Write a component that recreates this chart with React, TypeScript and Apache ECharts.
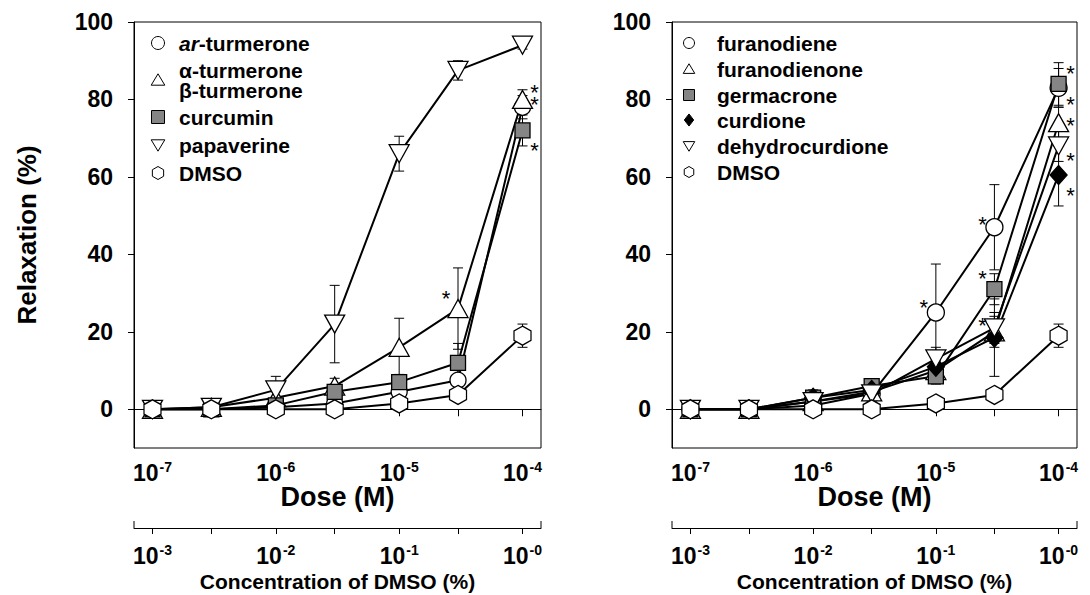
import React, { useEffect, useRef } from 'react';
import * as echarts from 'echarts';

// ---------- data ----------
const doses = [1e-7, 3e-7, 1e-6, 3e-6, 1e-5, 3e-5, 1e-4];
const doseLabelValues = [1e-7, 1e-6, 1e-5, 1e-4];
const doseExponents = ['-7', '-6', '-5', '-4'];
const dmsoExponents = ['-3', '-2', '-1', '-0'];
const yTicks = [0, 20, 40, 60, 80, 100];

// left panel
const leftNames = ['ar-turmerone', 'α-turmerone\nβ-turmerone', 'curcumin', 'papaverine', 'DMSO'];
const arTurmerone = [0, 0, 0.5, 1.5, 4.5, 7.5, 78];
const arTurmeroneErr = [0, 0, 0, 1, 2, 2.5, 3];
const abTurmerone = [0, 0.5, 3, 6, 16, 26, 80];
const abTurmeroneErr = [0, 0, 1.5, 2, 7.5, 10.5, 2.5];
const curcumin = [0, 0, 1, 4.5, 7, 12, 72];
const curcuminErr = [0, 0, 1, 2, 2, 5, 4];
const papaverine = [0, 0.5, 5, 22, 66, 87.5, 94];
const papaverineErr = [0, 0, 3.5, 10, 4.5, 2.5, 1];
const dmso = [0, 0, 0, 0, 1.5, 3.7, 19];
const dmsoErr = [0, 0, 0, 0, 0, 0, 3];
const leftStars = [[3e-5, 30, -1], [1e-4, 83, 1], [1e-4, 80, 1], [1e-4, 68, 1]];

// right panel
const rightNames = ['furanodiene', 'furanodienone', 'germacrone', 'curdione', 'dehydrocurdione', 'DMSO'];
const furanodiene = [0, 0, 1, 4, 25, 47, 83];
const furanodieneErr = [0, 0, 0, 0, 12.5, 11, 5];
const furanodienone = [0, 0, 2, 4.5, 10, 20, 74];
const furanodienoneErr = [0, 0, 0, 0, 3, 4, 4];
const germacrone = [0, 0, 3, 6, 8.5, 31, 84];
const germacroneErr = [0, 0, 1.5, 1.5, 2, 4, 5.5];
const curdione = [0, 0, 3, 5, 11, 18.5, 60.5];
const curdioneErr = [0, 0, 2, 1.5, 3, 10, 8];
const dehydrocurdione = [0, 0, 2, 4, 13, 21, 68];
const dehydrocurdioneErr = [0, 0, 0, 0, 3, 4, 4];
const rightStars = [
  [1e-5, 27.5, -1], [3e-5, 49, -1], [3e-5, 35, -1], [3e-5, 23, -1],
  [1e-4, 88, 1], [1e-4, 80, 1], [1e-4, 74.5, 1], [1e-4, 65.5, 1], [1e-4, 56.5, 1],
];

// ---------- styles ----------
const FONT = '"Liberation Sans", Arial, Helvetica, sans-serif';
const downTri = 'path://M0,0 L20,0 L10,17 Z';
const upTri = 'path://M10,0 L20,17 L0,17 Z';
const hexagon = 'path://M8.66,0 L17.32,5 L17.32,15 L8.66,20 L0,15 L0,5 Z';
const square = 'path://M0,0 L10,0 L10,10 L0,10 Z';
const diamond = 'path://M5,0 L10,6 L5,12 L0,6 Z';
const GREY = '#858585';

const grids = [
  { left: 134, top: 22, width: 407, height: 426 },
  { left: 672, top: 22, width: 405, height: 426 },
];
const XMIN = Math.pow(10, -7.15);
const XMAX = Math.pow(10, -3.85);

// legend layout
const leftLegend = {
  iconX: 158, textX: 179, size: 13,
  rows: [43, 80, 117, 145, 173],
  icons: ['circle', 'up', 'square', 'down', 'hex'],
  fills: ['#fff', '#fff', GREY, '#fff', '#fff'],
};
const rightLegend = {
  iconX: 689, textX: 717, size: 11,
  rows: [43, 69, 95, 120, 146, 172],
  icons: ['circle', 'up', 'square', 'diamond', 'down', 'hex'],
  fills: ['#fff', '#fff', GREY, '#000', '#fff', '#fff'],
};

function legendIcon(kind: string, cx: number, cy: number, s: number, fill: string) {
  const style = { fill, stroke: '#000', lineWidth: 1 };
  const h = s / 2;
  if (kind === 'circle') return { type: 'circle', shape: { cx, cy, r: h }, style, z: 10 };
  if (kind === 'square') return { type: 'rect', shape: { x: cx - h, y: cy - h, width: s, height: s }, style, z: 10 };
  let pts: number[][] = [];
  if (kind === 'up') pts = [[cx, cy - h * 0.95], [cx + h * 1.05, cy + h * 0.8], [cx - h * 1.05, cy + h * 0.8]];
  if (kind === 'down') pts = [[cx - h * 1.05, cy - h * 0.8], [cx + h * 1.05, cy - h * 0.8], [cx, cy + h * 0.95]];
  if (kind === 'diamond') pts = [[cx, cy - h * 1.1], [cx + h * 0.85, cy], [cx, cy + h * 1.1], [cx - h * 0.85, cy]];
  if (kind === 'hex') {
    for (let k = 0; k < 6; k++) {
      const a = (-90 + 60 * k) * Math.PI / 180;
      pts.push([cx + h * Math.cos(a), cy + h * Math.sin(a)]);
    }
  }
  return { type: 'polygon', shape: { points: pts }, style, z: 10 };
}

function legendGraphics(names: string[], lg: any) {
  const out: any[] = [];
  names.forEach((n, i) => {
    out.push(legendIcon(lg.icons[i], lg.iconX, lg.rows[i], lg.size, lg.fills[i]));
    out.push({
      type: 'text',
      x: lg.textX,
      y: lg.rows[i],
      z: 10,
      style: {
        text: n === 'ar-turmerone' ? '{i|ar}{n|-turmerone}' : n,
        fontSize: 21,
        fontWeight: 'bold',
        fontFamily: FONT,
        fill: '#000',
        lineHeight: 20,
        verticalAlign: 'middle',
        align: 'left',
        rich: {
          i: { fontSize: 21, fontWeight: 'bold', fontStyle: 'italic', fontFamily: FONT, fill: '#000' },
          n: { fontSize: 21, fontWeight: 'bold', fontFamily: FONT, fill: '#000' },
        },
      },
    });
  });
  return out;
}

function lineSeries(name: string, values: number[], symbol: string, size: any, fill: string, gi: number) {
  return {
    type: 'line',
    name,
    xAxisIndex: gi * 2,
    yAxisIndex: gi,
    data: doses.map((d, i) => [d, values[i]]),
    symbol,
    symbolSize: size,
    showAllSymbol: true,
    lineStyle: { color: '#000', width: 2 },
    itemStyle: { color: fill, borderColor: '#000', borderWidth: 1.3, opacity: 1 },
    emphasis: { disabled: true },
    z: 3,
  };
}

function errSeries(values: number[], errs: number[], gi: number) {
  return {
    type: 'custom',
    xAxisIndex: gi * 2,
    yAxisIndex: gi,
    data: doses.map((d, i) => [d, values[i], errs[i]]).filter((r) => r[2] > 0),
    renderItem: (params: any, api: any) => {
      const x = api.value(0);
      const y = api.value(1);
      const e = api.value(2);
      const t = api.coord([x, y + e]);
      const b = api.coord([x, y - e]);
      const w = 5;
      const st = { stroke: '#000', lineWidth: 1 };
      return {
        type: 'group',
        children: [
          { type: 'line', shape: { x1: t[0], y1: t[1], x2: b[0], y2: b[1] }, style: st },
          { type: 'line', shape: { x1: t[0] - w, y1: t[1], x2: t[0] + w, y2: t[1] }, style: st },
          { type: 'line', shape: { x1: b[0] - w, y1: b[1], x2: b[0] + w, y2: b[1] }, style: st },
        ],
      };
    },
    z: 2,
    silent: true,
  };
}

function starSeries(stars: number[][], gi: number) {
  return {
    type: 'custom',
    xAxisIndex: gi * 2,
    yAxisIndex: gi,
    data: stars,
    renderItem: (params: any, api: any) => {
      const p = api.coord([api.value(0), api.value(1)]);
      const dir = api.value(2);
      return {
        type: 'text',
        x: p[0] + dir * 12,
        y: p[1] + 5,
        style: {
          text: '*',
          fontSize: 22,
          fontFamily: FONT,
          fill: '#000',
          align: 'center',
          verticalAlign: 'middle',
        },
      };
    },
    z: 5,
    silent: true,
  };
}

function xAxes(gi: number) {
  const common = {
    type: 'log',
    logBase: 10,
    gridIndex: gi,
    min: XMIN,
    max: XMAX,
    splitLine: { show: false },
    minorTick: { show: false },
    nameMoveOverlap: false,
  };
  const rich = {
    b: { fontSize: 23, fontWeight: 'bold', fontFamily: FONT, color: '#000' },
    s: { fontSize: 14, fontWeight: 'bold', fontFamily: FONT, color: '#000', padding: [0, 0, 12, 1] },
  };
  return [
    {
      ...common,
      position: 'bottom',
      axisLine: { show: true, lineStyle: { color: '#000', width: 1 } },
      axisTick: { show: true, length: 7, customValues: doses, lineStyle: { color: '#000' } },
      axisLabel: {
        customValues: doseLabelValues,
        margin: 12,
        formatter: (v: number) => `{b|10}{s|${doseExponents[Math.round(Math.log10(v)) + 7]}}`,
        rich,
      },
      name: 'Dose (M)',
      nameLocation: 'middle',
      nameGap: 35,
      nameTextStyle: { fontSize: 27, fontWeight: 'bold', fontFamily: FONT, color: '#000' },
    },
    {
      ...common,
      position: 'bottom',
      offset: 80,
      axisLine: { show: true, lineStyle: { color: '#000', width: 1 } },
      axisTick: { show: true, length: 6, customValues: doses, lineStyle: { color: '#000' } },
      axisLabel: {
        customValues: doseLabelValues,
        margin: 15,
        formatter: (v: number) => `{b|10}{s|${dmsoExponents[Math.round(Math.log10(v)) + 7]}}`,
        rich,
      },
      name: 'Concentration of DMSO (%)',
      nameLocation: 'middle',
      nameGap: 43,
      nameTextStyle: { fontSize: 21, fontWeight: 'bold', fontFamily: FONT, color: '#000' },
    },
  ];
}

function yAxis(gi: number) {
  return {
    type: 'value',
    gridIndex: gi,
    min: -10,
    max: 100,
    splitLine: { show: false },
    axisLine: { show: true, lineStyle: { color: '#000', width: 1 } },
    axisTick: { show: true, length: 6, customValues: yTicks, lineStyle: { color: '#000' } },
    axisLabel: {
      customValues: yTicks,
      margin: 21,
      fontSize: 23,
      fontWeight: 'bold',
      fontFamily: FONT,
      color: '#000',
    },
    name: gi === 0 ? 'Relaxation (%)' : '',
    nameLocation: 'middle',
    nameGap: 94,
    nameRotate: 90,
    nameMoveOverlap: false,
    nameTextStyle: { fontSize: 26, fontWeight: 'bold', fontFamily: FONT, color: '#000' },
  };
}

export default function App() {
  const ref = useRef<HTMLDivElement>(null);
  useEffect(() => {
    document.body.style.margin = '0';
    document.body.style.overflow = 'hidden';
    const chart = echarts.init(ref.current!, null, { renderer: 'svg' });
    const endTicks: any[] = [];
    grids.forEach((g) => {
      const y = g.top + g.height + 80;
      [g.left, g.left + g.width].forEach((x) => {
        endTicks.push({
          type: 'line',
          shape: { x1: x, y1: y, x2: x, y2: y - 7 },
          style: { stroke: '#000', lineWidth: 1 },
        });
      });
    });
    chart.setOption({
      animation: false,
      backgroundColor: '#fff',
      grid: grids.map((g) => ({
        ...g,
        show: true,
        borderColor: '#000',
        borderWidth: 1,
        backgroundColor: 'transparent',
        containLabel: false,
        outerBoundsMode: 'none',
      })),
      xAxis: [...xAxes(0), ...xAxes(1)],
      yAxis: [yAxis(0), yAxis(1)],
      graphic: [...endTicks, ...legendGraphics(leftNames, leftLegend), ...legendGraphics(rightNames, rightLegend)],
      series: [
        errSeries(arTurmerone, arTurmeroneErr, 0),
        errSeries(abTurmerone, abTurmeroneErr, 0),
        errSeries(curcumin, curcuminErr, 0),
        errSeries(papaverine, papaverineErr, 0),
        errSeries(dmso, dmsoErr, 0),
        lineSeries(leftNames[0], arTurmerone, 'circle', 16, '#fff', 0),
        lineSeries(leftNames[1], abTurmerone, upTri, [20, 18], '#fff', 0),
        lineSeries(leftNames[2], curcumin, square, 15, GREY, 0),
        lineSeries(leftNames[3], papaverine, downTri, [20, 18], '#fff', 0),
        lineSeries(leftNames[4], dmso, hexagon, [17, 19], '#fff', 0),
        starSeries(leftStars, 0),

        errSeries(furanodiene, furanodieneErr, 1),
        errSeries(furanodienone, furanodienoneErr, 1),
        errSeries(germacrone, germacroneErr, 1),
        errSeries(curdione, curdioneErr, 1),
        errSeries(dehydrocurdione, dehydrocurdioneErr, 1),
        errSeries(dmso, dmsoErr, 1),
        lineSeries(rightNames[0], furanodiene, 'circle', 17, '#fff', 1),
        lineSeries(rightNames[1], furanodienone, upTri, [20, 18], '#fff', 1),
        lineSeries(rightNames[2], germacrone, square, 15, GREY, 1),
        lineSeries(rightNames[3], curdione, diamond, [17, 19], '#000', 1),
        lineSeries(rightNames[4], dehydrocurdione, downTri, [20, 18], '#fff', 1),
        lineSeries(rightNames[5], dmso, hexagon, [17, 19], '#fff', 1),
        starSeries(rightStars, 1),
      ],
    });
    return () => chart.dispose();
  }, []);
  return <div ref={ref} style={{ width: 1090, height: 595 }} />;
}
